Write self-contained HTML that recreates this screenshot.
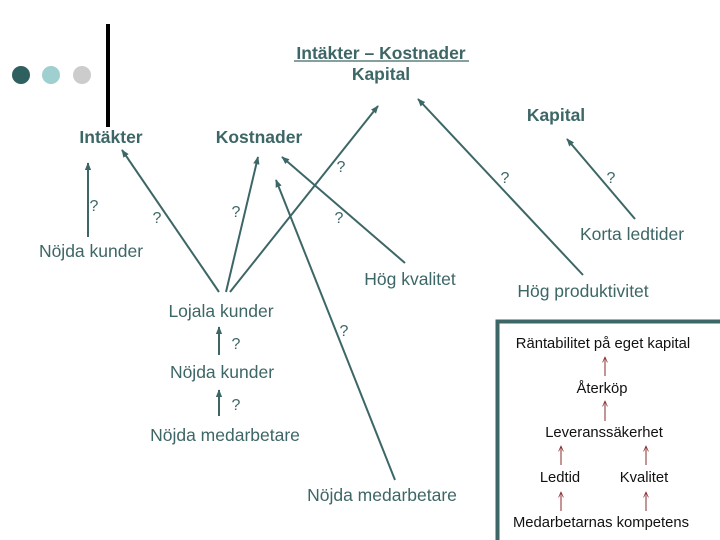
<!DOCTYPE html>
<html><head><meta charset="utf-8"><style>
html,body{margin:0;padding:0;background:#fff;}
svg{display:block;}
.t{font-family:"Liberation Sans",sans-serif;fill:#3d6666;font-size:17.5px;text-anchor:middle;}
.b{font-weight:bold;font-size:17.5px;}
.s{font-family:"Liberation Sans",sans-serif;fill:#111;font-size:14.8px;text-anchor:middle;}
</style></head><body>
<svg width="720" height="540" viewBox="0 0 720 540" xmlns="http://www.w3.org/2000/svg">
<defs>
<marker id="a" viewBox="0 0 10 10" refX="9" refY="5" markerWidth="4" markerHeight="4" orient="auto"><path d="M0,1 L10,5 L0,9 z" fill="#3d6666"/></marker>
<marker id="r" viewBox="0 0 10 10" refX="9" refY="5" markerWidth="6" markerHeight="6" orient="auto"><path d="M0,1 L9,5 L0,9" fill="none" stroke="#8b2a2a" stroke-width="1.2"/></marker>
</defs>
<circle cx="21" cy="75" r="9" fill="#2f6060"/>
<circle cx="51" cy="75" r="9" fill="#9fcfcf"/>
<circle cx="82" cy="75" r="9" fill="#cccccc"/>
<rect x="106" y="24" width="4" height="103" fill="#000"/>
<text class="t b" x="381" y="59">Intäkter – Kostnader</text>
<line x1="294" y1="61" x2="469" y2="61" stroke="#3d6666" stroke-width="1.3"/>
<text class="t b" x="381" y="80">Kapital</text>
<text class="t b" x="556" y="121">Kapital</text>
<text class="t b" x="111" y="143">Intäkter</text>
<text class="t b" x="259" y="143">Kostnader</text>
<g stroke="#3d6666" stroke-width="2" fill="none" marker-end="url(#a)">
<line x1="88" y1="237" x2="88" y2="163"/>
<line x1="219" y1="292" x2="122" y2="150"/>
<line x1="226" y1="292" x2="258" y2="157"/>
<line x1="230" y1="292" x2="378" y2="106"/>
<line x1="395" y1="480" x2="276" y2="180"/>
<line x1="405" y1="263" x2="282" y2="157"/>
<line x1="583" y1="275" x2="418" y2="99"/>
<line x1="635" y1="219" x2="567" y2="139"/>
<line x1="219" y1="355" x2="219" y2="327"/>
<line x1="219" y1="416" x2="219" y2="390"/>
</g>
<g class="t" style="font-size:16px">
<text x="94" y="211">?</text>
<text x="157" y="223">?</text>
<text x="236" y="217">?</text>
<text x="341" y="172">?</text>
<text x="339" y="223">?</text>
<text x="505" y="183">?</text>
<text x="611" y="183">?</text>
<text x="236" y="349">?</text>
<text x="236" y="410">?</text>
<text x="344" y="336">?</text>
</g>
<g class="t">
<text x="91" y="257">Nöjda kunder</text>
<text x="632" y="240">Korta ledtider</text>
<text x="410" y="285">Hög kvalitet</text>
<text x="583" y="297">Hög produktivitet</text>
<text x="221" y="317">Lojala kunder</text>
<text x="222" y="378">Nöjda kunder</text>
<text x="225" y="441">Nöjda medarbetare</text>
<text x="382" y="501">Nöjda medarbetare</text>
</g>
<path d="M497.5,540 L497.5,321.5 L720,321.5" fill="none" stroke="#3d6666" stroke-width="4"/>
<g class="s">
<text x="603" y="348">Räntabilitet på eget kapital</text>
<text x="602" y="393">Återköp</text>
<text x="604" y="437">Leveranssäkerhet</text>
<text x="560" y="482">Ledtid</text>
<text x="644" y="482">Kvalitet</text>
<text x="601" y="527">Medarbetarnas kompetens</text>
</g>
<g stroke="#8b2a2a" stroke-width="1" fill="none" marker-end="url(#r)">
<line x1="605" y1="376" x2="605" y2="357"/>
<line x1="605" y1="421" x2="605" y2="401"/>
<line x1="561" y1="465" x2="561" y2="446"/>
<line x1="646" y1="465" x2="646" y2="446"/>
<line x1="561" y1="511" x2="561" y2="492"/>
<line x1="646" y1="511" x2="646" y2="492"/>
</g>
</svg>
</body></html>
